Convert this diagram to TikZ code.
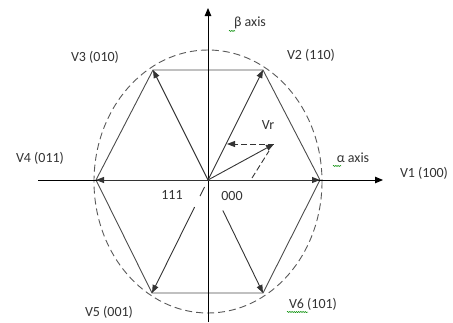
\documentclass[tikz,border=0pt]{standalone}
\usepackage{fontspec}
\setmainfont{Carlito}
\usetikzlibrary{arrows.meta,calc,decorations.pathmorphing}
\begin{document}
\begin{tikzpicture}[x=1pt,y=-1pt,
  axisline/.style={black,line width=0.9pt,-{Triangle[length=8pt,width=6.5pt]}},
  hexline/.style={black!70,line width=0.9pt},
  vec/.style={black!80,line width=0.9pt,-{Triangle[length=8pt,width=6pt]}},
  plainvec/.style={black!80,line width=0.9pt},
  dashvec/.style={black!80,line width=0.9pt,dash pattern=on 6pt off 3pt},
  circ/.style={black!65,line width=0.9pt,dash pattern=on 7pt off 4pt},
  lab/.style={text=black!80,font=\fontsize{14}{16}\selectfont,inner sep=0pt},
  squig/.style={green!55!black,line width=0.5pt,decorate,decoration={snake,segment length=2.2pt,amplitude=0.6pt}}]
\useasboundingbox (0,0) rectangle (453,322);
% coordinates
\coordinate (O) at (208,180);
\coordinate (V1) at (320,180);
\coordinate (V2) at (263,70);
\coordinate (V3) at (153,70);
\coordinate (V4) at (96,180);
\coordinate (V5) at (152,293);
\coordinate (V6) at (263,293);
\coordinate (xl) at (38,180);
\coordinate (xr) at (383,180);
\coordinate (yt) at (208,8);
\coordinate (yb) at (208,322);
\coordinate (Vt) at (274,144);
\coordinate (Vb) at (227,144);
\coordinate (Da) at (252,178);
\coordinate (Db) at (269,151);
% ellipse
\draw[circ] (208,181.5) ellipse [x radius=114, y radius=131.5];
% hexagon
\draw[hexline] (V1) -- (V2) -- (V3) -- (V4) -- (V5) -- (V6) -- cycle;
% axes
\draw[axisline] (xl) -- (xr);
\draw[axisline] (yb) -- (yt);
% vectors
\draw[vec] (O) -- (V1);
\draw[vec] (O) -- (V2);
\draw[vec] (O) -- (V3);
\draw[vec] (O) -- (V4);
\draw[plainvec] ($(O)!0.062!(V5)$) -- ($(O)!0.142!(V5)$);
\draw[vec] ($(O)!0.24!(V5)$) -- (V5);
\draw[vec] ($(O)!0.27!(V6)$) -- (V6);
% Vr
\draw[vec] (O) -- (Vt);
\draw[dashvec,-{Triangle[length=8pt,width=6pt]}] (Vt) -- (Vb);
\draw[dashvec] (Da) -- (Db);
% labels
\node[lab] (lbeta) at (250,23) {β axis};
\node[lab] (lalpha) at (353,158) {α axis};
\node[lab] (lV1) at (424,173) {V1 (100)};
\node[lab] (lV2) at (311,55) {V2 (110)};
\node[lab] (lV3) at (95,57) {V3 (010)};
\node[lab] (lV4) at (40,158) {V4 (011)};
\node[lab] (lV5) at (109,312) {V5 (001)};
\node[lab] (lV6) at (313,304) {V6 (101)};
\node[lab] (lVr) at (268,125) {Vr};
\node[lab] (l111) at (172,195) {111};
\node[lab] (l000) at (232,196) {000};
% spell-check squiggles
\draw[squig] (229,31) -- (235,31);
\draw[squig] (333,166) -- (341,166);
\draw[squig] (287,312) -- (308,312);
\end{tikzpicture}
\end{document}
